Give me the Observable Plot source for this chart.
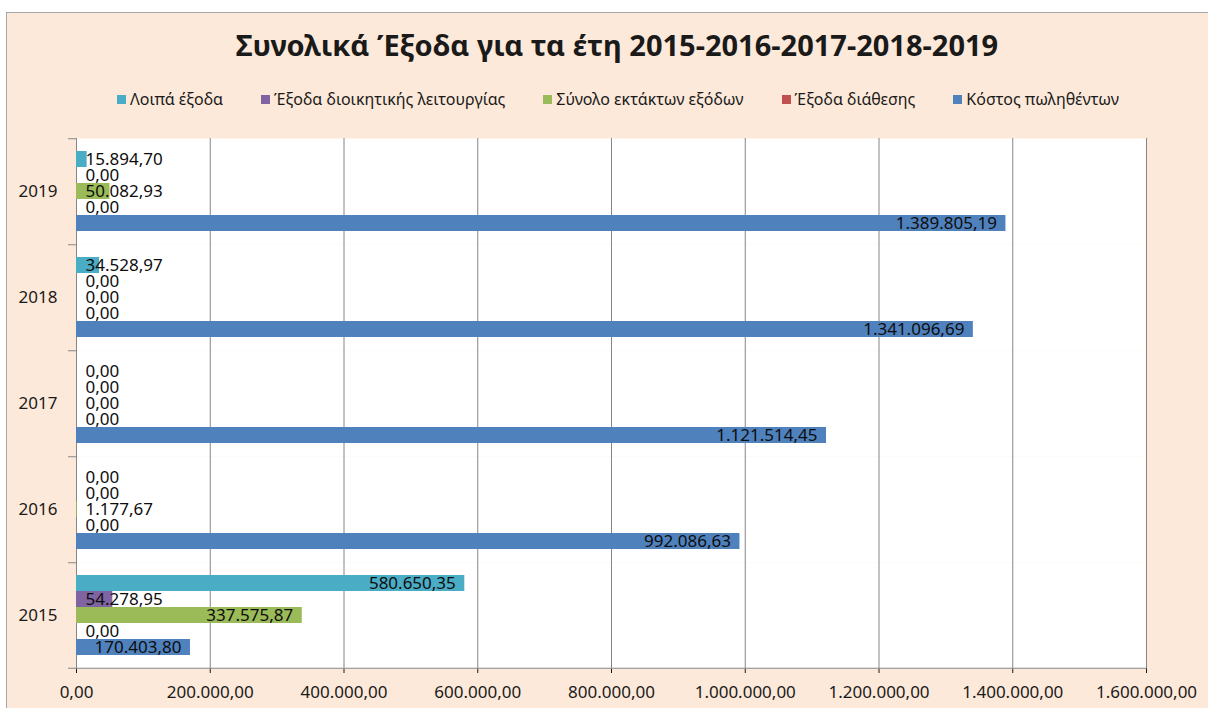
<!DOCTYPE html>
<html>
<head>
<meta charset="utf-8">
<script src="https://cdn.jsdelivr.net/npm/d3@7"></script>
<script src="https://cdn.jsdelivr.net/npm/@observablehq/plot@0.6"></script>
<style>
  html, body { margin: 0; padding: 0; background: #ffffff; }
  body { width: 1208px; height: 708px; position: relative; overflow: hidden; font-family: "Noto Sans", sans-serif; }
  #panel { position: absolute; left: 6px; top: 12px; width: 1210px; height: 710px; background: #fde9d9; border: 1px solid #a6a6a6; box-sizing: border-box; }
  #title { position: absolute; left: 0; width: 1234px; top: 25px; text-align: center; font-weight: bold; font-size: 29px; color: #1a1a1a; white-space: nowrap; }
  #legend { position: absolute; left: 0; width: 1236px; top: 88px; display: flex; justify-content: center; gap: 38px; font-size: 16px; color: #1a1a1a; white-space: nowrap; }
  #legend span.item { display: inline-flex; align-items: center; }
  #legend span.sw { display: inline-block; width: 9px; height: 9px; margin-right: 4px; }
  #chart { position: absolute; left: 0; top: 120px; }
</style>
</head>
<body>
<div id="panel"></div>
<div id="title"></div>
<div id="legend"></div>
<div id="chart"></div>
<script>
const titleText = "Συνολικά Έξοδα για τα έτη 2015-2016-2017-2018-2019";
const years = ["2019", "2018", "2017", "2016", "2015"];
const series = ["Λοιπά έξοδα", "Έξοδα διοικητικής λειτουργίας", "Σύνολο εκτάκτων εξόδων", "Έξοδα διάθεσης", "Κόστος πωληθέντων"];
const colors = ["#4bacc6", "#8064a2", "#9bbb59", "#c0504d", "#4f81bd"];
// values per series, in the order of `years`
const loipa      = [15894.70, 34528.97, 0, 0, 580650.35];
const dioikisis  = [0, 0, 0, 0, 54278.95];
const ektakta    = [50082.93, 0, 0, 1177.67, 337575.87];
const diathesis  = [0, 0, 0, 0, 0];
const kostos     = [1389805.19, 1341096.69, 1121514.45, 992086.63, 170403.80];
const xTicks = [0, 200000, 400000, 600000, 800000, 1000000, 1200000, 1400000, 1600000];

const seriesValues = [loipa, dioikisis, ektakta, diathesis, kostos];
const grLocale = d3.formatLocale({decimal: ",", thousands: ".", grouping: [3], currency: ["", "€"]});
const fmt = grLocale.format(",.2f");

const width = 1208, height = 588;
const mL = 76, mR = 62, mT = 17, mB = 39;
const plotW = width - mL - mR;
const xMax = 1600000;
const facetH = (height - mT - mB) / years.length;
const padOuter = 0.778;
const step = facetH / (series.length + 2 * padOuter);

function textWidth(s) {
  let w = 0;
  for (const c of s) w += (c === "." || c === ",") ? 4.6 : 9.7;
  return w;
}

const data = [];
series.forEach((s, si) => {
  years.forEach((y, yi) => {
    const v = seriesValues[si][yi];
    const label = fmt(v);
    const barPx = v / xMax * plotW;
    const fits = barPx - 9 - textWidth(label) >= 9;
    data.push({year: y, series: s, value: v, label, fits});
  });
});

// title + legend
document.getElementById("title").textContent = titleText;
const legend = document.getElementById("legend");
series.forEach((s, i) => {
  const it = document.createElement("span");
  it.className = "item";
  const sw = document.createElement("span");
  sw.className = "sw";
  sw.style.background = colors[i];
  it.appendChild(sw);
  it.appendChild(document.createTextNode(s));
  legend.appendChild(it);
});

const tickLen = 8 / plotW * xMax;
const gray = "#868686";

const chart = Plot.plot({
  width, height,
  marginLeft: mL, marginRight: mR, marginTop: mT, marginBottom: mB,
  style: {background: "transparent", fontFamily: "Noto Sans, sans-serif", fontSize: "17px", color: "#1a1a1a"},
  x: {domain: [0, xMax], ticks: xTicks, tickFormat: fmt, tickSize: 5, tickPadding: 12, label: null},
  y: {domain: series, paddingInner: 0, paddingOuter: padOuter, axis: null},
  fy: {domain: years, padding: 0, tickSize: 0, tickPadding: 19, label: null},
  color: {domain: series, range: colors},
  marks: [
    Plot.frame({fill: "white", stroke: null}),
    Plot.ruleX(xTicks, {stroke: gray, strokeOpacity: 1}),
    Plot.barX(data, {x: "value", y: "series", fy: "year", fill: "series"}),
    Plot.ruleY(years, {fy: d => d, y: () => series[0], x1: -tickLen, x2: 0, dy: -(padOuter * step + step / 2), stroke: gray}),
    Plot.ruleY([years[years.length - 1]], {fy: d => d, y: () => series[series.length - 1], x1: -tickLen, x2: xMax, dy: (padOuter * step + step / 2), stroke: gray}),
    Plot.text(data.filter(d => d.fits), {x: "value", y: "series", fy: "year", text: "label", textAnchor: "end", dx: -9, fill: "#0d0d0d", fontSize: 17}),
    Plot.text(data.filter(d => !d.fits), {x: () => 0, y: "series", fy: "year", text: "label", textAnchor: "start", dx: 9, fill: "#0d0d0d", fontSize: 17})
  ]
});
document.getElementById("chart").appendChild(chart);
</script>
</body>
</html>
